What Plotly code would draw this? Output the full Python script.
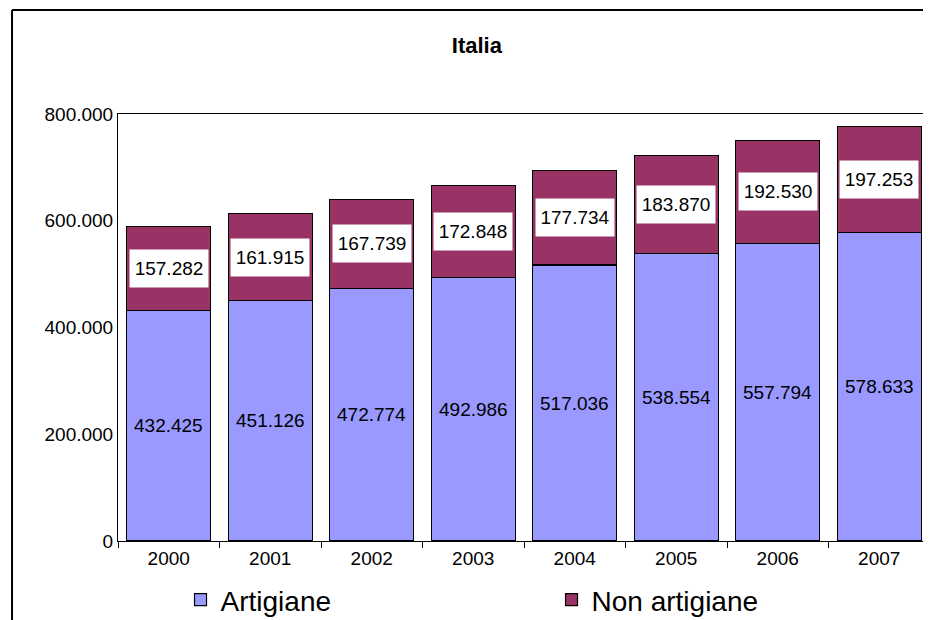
import plotly.graph_objects as go

anni = ["2000", "2001", "2002", "2003", "2004", "2005", "2006", "2007"]
artigiane = [432425, 451126, 472774, 492986, 517036, 538554, 557794, 578633]
non_artigiane = [157282, 161915, 167739, 172848, 177734, 183870, 192530, 197253]
y_ticks = [0, 200000, 400000, 600000, 800000]


def fmt(v):
    return f"{v:,}".replace(",", ".")


FONT = "Liberation Sans, Arial, sans-serif"

fig = go.Figure()
fig.add_trace(go.Bar(x=anni, y=artigiane, name="Artigiane",
                     marker=dict(color="#9999FF", line=dict(color="black", width=1.2))))
fig.add_trace(go.Bar(x=anni, y=non_artigiane, name="Non artigiane",
                     marker=dict(color="#993366", line=dict(color="black", width=1.2))))

# etichette dei valori (x = indice della categoria)
for i, (v, n) in enumerate(zip(artigiane, non_artigiane)):
    fig.add_annotation(x=i, y=v / 2, text=fmt(v), showarrow=False,
                       font=dict(size=19, color="black", family=FONT))
    fig.add_annotation(x=i, y=v + n / 2, text=fmt(n), showarrow=False,
                       font=dict(size=19, color="black", family=FONT),
                       bgcolor="white", width=76, height=35, borderpad=1)

# cornice esterna (solo lato sinistro e superiore visibili)
fig.add_shape(type="line", xref="paper", yref="paper",
              x0=-0.1305, x1=-0.1305, y0=-0.3, y1=1.2436,
              line=dict(color="black", width=2), layer="above")
fig.add_shape(type="line", xref="paper", yref="paper",
              x0=-0.1305, x1=1.01, y0=1.2436, y1=1.2436,
              line=dict(color="black", width=2), layer="above")

fig.update_layout(
    width=923, height=612,
    barmode="stack", bargap=0.17,
    separators=",.",
    paper_bgcolor="white", plot_bgcolor="white",
    margin=dict(l=110, r=1, t=106, b=79, autoexpand=False),
    font=dict(family=FONT, size=19, color="black"),
    title=dict(text="<b>Italia</b>", x=0.508, xanchor="center",
               y=0.9395, yanchor="middle", font=dict(size=22)),
    legend=dict(orientation="h", x=0.077, xanchor="left",
                yref="container", y=0.0327, yanchor="middle",
                font=dict(size=28), entrywidth=326, entrywidthmode="pixels",
                traceorder="normal"),
    showlegend=True,
)
fig.update_xaxes(type="category", range=[-0.5, len(anni) - 0.5],
                 showline=True, linecolor="black", linewidth=1,
                 mirror=True, ticks="outside", tickson="boundaries", ticklen=6,
                 tickcolor="black", showgrid=False, tickangle=0, automargin=False)
fig.update_yaxes(range=[0, 800000], tickvals=y_ticks, tickformat=",.0f",
                 showline=True, linecolor="black", linewidth=1, mirror=True,
                 ticks="", showgrid=False,
                 zeroline=False, automargin=False)

fig.write_html("out.html")
